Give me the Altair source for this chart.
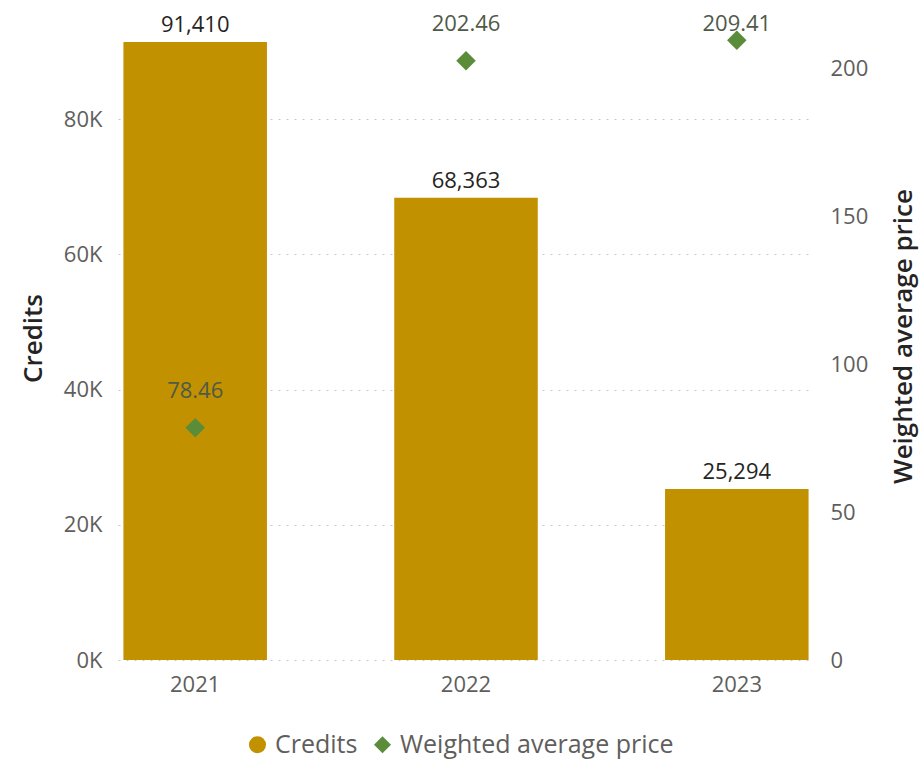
import altair as alt
import pandas as pd

years = ["2021", "2022", "2023"]
credits = [91410, 68363, 25294]
prices = [78.46, 202.46, 209.41]
left_ticks = [0, 20000, 40000, 60000, 80000]
right_ticks = [0, 50, 100, 150, 200]
series_names = ["Credits", "Weighted average price"]

bars_df = pd.DataFrame({"year": years, "value": credits, "series": series_names[0]})
pts_df = pd.DataFrame({"year": years, "value": prices, "series": series_names[1]})

FONT = "Open Sans"
GOLD = "#C29100"
GREEN = "#5B8C3A"
LABEL = "#605E5C"
TITLE = "#252423"

x = alt.X(
    "year:N",
    title=None,
    scale=alt.Scale(paddingInner=0.47, paddingOuter=0.02),
    axis=alt.Axis(labelAngle=0, ticks=False, domain=False, labelFontSize=22,
                  labelColor=LABEL, labelPadding=14, labelFont=FONT, grid=False),
)

legend = alt.Legend(
    orient="none", legendX=127, legendY=692, direction="horizontal", title=None,
    labelFontSize=25, labelColor=LABEL, labelFont=FONT, symbolSize=290,
    symbolStrokeWidth=0, symbolOpacity=1, columnPadding=12, labelOffset=5,
    labelLimit=400,
)
color = alt.Color("series:N", scale=alt.Scale(domain=series_names, range=[GOLD, GREEN]), legend=legend)
shape = alt.Shape("series:N", scale=alt.Scale(domain=series_names, range=["circle", "diamond"]), legend=legend)

yl_scale = alt.Scale(domain=[0, 91700], nice=False)
yr_scale = alt.Scale(domain=[0, 209.5], nice=False)

bars = alt.Chart(bars_df).mark_bar().encode(
    x=x,
    y=alt.Y("value:Q", title="Credits", scale=yl_scale,
            axis=alt.Axis(orient="left", values=left_ticks, labelExpr="datum.value/1000 + 'K'",
                          ticks=False, domain=False, labelFontSize=22, labelColor=LABEL,
                          labelFont=FONT, labelPadding=16, grid=True, gridColor="#C8C8C8",
                          gridDash=[2, 6], gridWidth=1, titleFont=FONT, titleFontSize=26,
                          titleFontWeight=600, titleColor=TITLE, titleAngle=270,
                          titleX=-85, titleY=298, titleAlign="center", titleBaseline="middle")),
    color=color,
)
bar_text = alt.Chart(bars_df).mark_text(baseline="bottom", dy=-5, fontSize=22, font=FONT, color=TITLE).encode(
    x=x,
    y=alt.Y("value:Q", scale=yl_scale, title="Credits"),
    text=alt.Text("value:Q", format=","),
)

points = alt.Chart(pts_df).mark_point(filled=True, size=380, opacity=1).encode(
    x=x,
    y=alt.Y("value:Q", title="Weighted average price", scale=yr_scale,
            axis=alt.Axis(orient="right", values=right_ticks, ticks=False, domain=False,
                          labelFontSize=22, labelColor=LABEL, labelFont=FONT, labelPadding=16,
                          grid=False, titleFont=FONT, titleFontSize=26, titleFontWeight=600,
                          titleColor=TITLE, titleAngle=270, titleX=89, titleY=296,
                          titleAlign="center", titleBaseline="middle")),
    color=color,
    shape=shape,
)
# labels kept inside the plot area, as the original does for the top value
pt_text = alt.Chart(pts_df).transform_calculate(
    label_y="min(datum.value, 202.46)"
).mark_text(baseline="bottom", dy=-25, fontSize=22, font=FONT, color="#4F5A49").encode(
    x=x,
    y=alt.Y("label_y:Q", scale=yr_scale, title="Weighted average price"),
    text=alt.Text("value:Q", format=".2f"),
)

left = alt.layer(bars, bar_text)
right = alt.layer(points, pt_text)

chart = alt.layer(left, right).resolve_scale(y="independent").properties(
    width=696, height=620,
    padding={"left": 118, "top": 40, "right": 107, "bottom": 101},
    autosize=alt.AutoSizeParams(type="none"),
    background="white",
).configure_view(stroke=None, strokeWidth=0).configure_axis(
    domain=False, ticks=False
)

chart.save("out.html", embed_options={"renderer": "svg", "actions": False})
